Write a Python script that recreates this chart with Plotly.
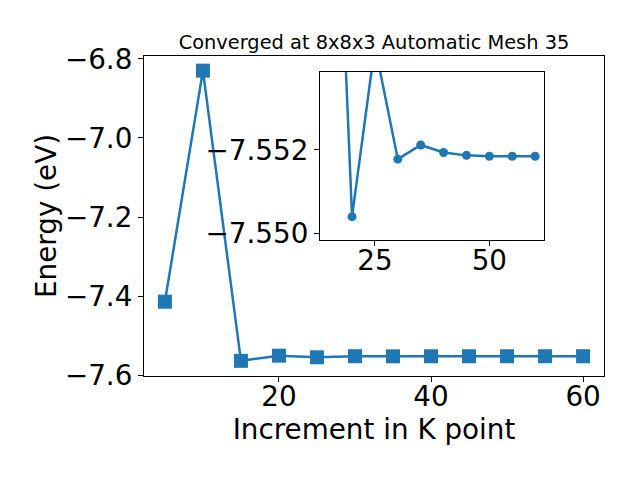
import plotly.graph_objects as go

# Data
k_points = [5, 10, 15, 20, 25, 30, 35, 40, 45, 50, 55, 60]
energy = [-7.414, -6.830, -7.5635, -7.5504, -7.5545, -7.55178, -7.55212,
          -7.55194, -7.55187, -7.55185, -7.55185, -7.55185]
inset_start = 2  # inset shows points from k = 15 onwards

main_yticks = [-7.6, -7.4, -7.2, -7.0, -6.8]
main_xticks = [20, 40, 60]
inset_yticks = [-7.552, -7.550]
inset_xticks = [25, 50]

title_text = "Converged at 8x8x3 Automatic Mesh 35"
xlabel = "Increment in K point"
ylabel = "Energy (eV)"

color = "#1f77b4"
font_family = "DejaVu Sans"
big = 27.8


def fmt(v, nd):
    s = f"{abs(v):.{nd}f}"
    return ("\u2212" + s) if v < 0 else s


fig = go.Figure()
fig.add_trace(go.Scatter(
    x=k_points, y=energy, mode="lines+markers",
    line=dict(color=color, width=2.5),
    marker=dict(symbol="square", size=14, color=color),
    xaxis="x", yaxis="y", showlegend=False))
fig.add_trace(go.Scatter(
    x=k_points[inset_start:], y=energy[inset_start:], mode="lines+markers",
    line=dict(color=color, width=2.5),
    marker=dict(symbol="circle", size=9, color=color),
    xaxis="x2", yaxis="y2", showlegend=False))

axis_common = dict(showline=True, mirror=True, linecolor="black", linewidth=1.1,
                   ticks="outside", ticklen=5, tickwidth=1.1, tickcolor="black",
                   showgrid=False, zeroline=False, automargin=False,
                   tickfont=dict(family=font_family, size=big, color="black"))

W, H = 640, 480
off = 8  # page body margin compensation
L, R, T, B = 144 - off, 604 - off, 56 - off, 376 - off
pw, ph = R - L, B - T
ix0, ix1, iy0, iy1 = 320 - off, 544.3 - off, 72 - off, 240 - off

fig.update_layout(
    width=W, height=H,
    margin=dict(l=L, r=W - R, t=T, b=H - B, autoexpand=False),
    paper_bgcolor="white", plot_bgcolor="white",
    font=dict(family=font_family, color="black"),
    title=dict(text=title_text, x=(L + R) / 2 / W, xanchor="center",
               y=1 - (42 - off) / H, yanchor="middle", yref="container",
               font=dict(size=19.4, family=font_family, color="black")),
    xaxis=dict(domain=[0, 1], range=[2.25, 62.75], tickvals=main_xticks,
               ticktext=[str(v) for v in main_xticks], ticklabelstandoff=-9,
               title=dict(text=xlabel, font=dict(size=big, family=font_family), standoff=6),
               anchor="y", **axis_common),
    yaxis=dict(domain=[0, 1], range=[-7.6018, -6.793], tickvals=main_yticks,
               ticktext=[fmt(v, 1) for v in main_yticks],
               title=dict(text=ylabel, font=dict(size=big, family=font_family), standoff=0),
               anchor="x", **axis_common),
    xaxis2=dict(domain=[(ix0 - L) / pw, (ix1 - L) / pw], range=[13, 62],
                tickvals=inset_xticks, ticktext=[str(v) for v in inset_xticks],
                ticklabelstandoff=-9, anchor="y2", **axis_common),
    yaxis2=dict(domain=[(B - iy1) / ph, (B - iy0) / ph], range=[-7.54984, -7.55387],
                tickvals=inset_yticks, ticktext=[fmt(v, 3) for v in inset_yticks],
                anchor="x2", **axis_common),
)

fig.write_html("out.html")
